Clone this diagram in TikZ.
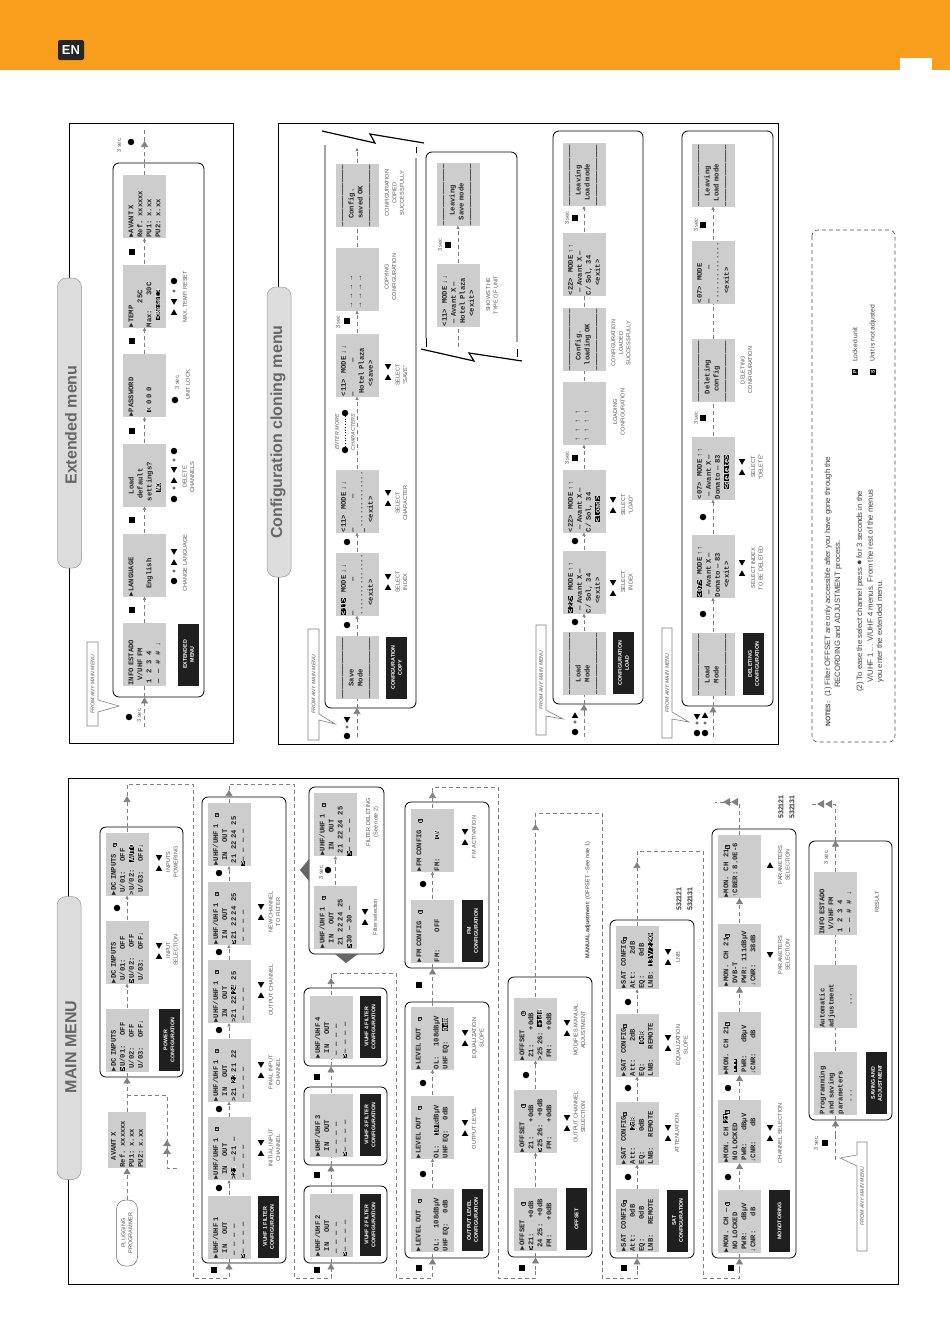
\documentclass[tikz,border=0pt]{standalone}
\usepackage{fontspec}
\setmainfont{Liberation Sans}
\setsansfont{Liberation Sans}
\setmonofont{Liberation Mono}
\usetikzlibrary{arrows.meta,shapes.geometric}
\definecolor{bandor}{HTML}{F99D1C}
\definecolor{lcdgray}{HTML}{CDCDCD}
\definecolor{tabgray}{HTML}{DCDCDC}
\definecolor{flowgray}{HTML}{808080}
\definecolor{lblgray}{HTML}{555555}
\newcommand{\hl}[1]{{\fboxsep=0pt\colorbox{black}{\textcolor{white}{#1}}}}
\newcommand{\lk}{\makebox[4.3pt]{\fboxsep=.3pt\fboxrule=.4pt\fbox{\fontsize{3.4}{3.4}\selectfont B}}}
\newcommand{\dl}{——————————————}
\tikzset{
  screen/.style={rotate=90,fill=lcdgray,text=black!85,inner sep=.5pt,text width=62pt,minimum height=43pt,
    align=left,font=\ttfamily\bfseries\fontsize{7.2}{9}\selectfont},
  panel/.style={draw=black,line width=.8pt,rounded corners=6pt,fill=white,inner sep=0pt},
  blk/.style={rotate=90,fill=black!88,text=white,minimum width=62pt,minimum height=21pt,inner sep=0pt,align=center,
    font=\sffamily\bfseries\fontsize{5.3}{7}\selectfont},
  lbl/.style={rotate=90,text=lblgray,inner sep=0pt,align=center,font=\sffamily\fontsize{5.6}{7.5}\selectfont},
  nt/.style={rotate=90,text=black!75,inner sep=0pt,anchor=west,font=\sffamily\fontsize{7.7}{8}\selectfont},
  callt/.style={lbl,font=\sffamily\itshape\fontsize{5.2}{7}\selectfont},
  callout/.style={draw=flowgray,fill=white,line width=.6pt},
  sq/.style={fill=black,minimum size=6pt,inner sep=0pt},
  ci/.style={circle,fill=black,minimum size=6.5pt,inner sep=0pt},
  keyu/.style={regular polygon,regular polygon sides=3,fill=black,minimum size=7.5pt,inner sep=0pt},
  keyd/.style={keyu,shape border rotate=180},
  pl/.style={inner sep=0pt,font=\sffamily\bfseries\fontsize{6}{6}\selectfont},
  flow/.style={draw=flowgray,dashed,line width=.6pt,dash pattern=on 4pt off 3pt,-{Triangle[length=3.2pt,width=3.2pt]}},
  flowb/.style={draw=flowgray,line width=.6pt,dash pattern=on 4pt off 3pt,-{Triangle[length=6pt,width=7pt]}},
  dashl/.style={draw=flowgray,line width=.6pt,dash pattern=on 4pt off 3pt},
  tab/.style={fill=tabgray,draw=black!40,line width=.5pt,rounded corners=9pt,minimum width=24pt,inner sep=0pt},
  ttl/.style={rotate=90,text=black!60,inner sep=0pt,font=\sffamily\bfseries\fontsize{16}{16}\selectfont},
  bigg/.style={fill=black!60,draw=none},
  zig/.style={draw=black,line width=1.2pt}
}
\begin{document}
\begin{tikzpicture}[x=1pt,y=-1pt]
  \useasboundingbox (0,0) rectangle (950,1344);
  % band
  \fill[bandor] (0,0) rectangle (950,70);
  \fill[white] (900,58) rectangle (932,70);
  \node[fill=black!85,text=white,rounded corners=2pt,inner sep=1.5pt,minimum width=26pt,minimum height=20pt,
    font=\sffamily\bfseries\fontsize{13}{13}\selectfont] (logo) at (71,50) {EN};
  % frames
  \draw[line width=.8pt] (69,123) rectangle (233,743);
  \draw[line width=.8pt] (278,123) rectangle (778,744);
  \draw[line width=.8pt] (68,778) rectangle (898,1284);
  \node[tab,minimum height=290pt] (TabE) at (69.5,423) {};
  \node[ttl] (TitleE) at (71,425) {Extended menu};
  \node[tab,minimum height=290pt] (TabC) at (279,432) {};
  \node[ttl] (TitleC) at (278,432) {Configuration cloning menu};
  \node[tab,minimum height=283pt] (TabM) at (69,1038) {};
  \node[ttl] (TitleM) at (71,1047) {MAIN MENU};
  \draw[dash pattern=on 4pt off 3pt,draw=black!70,line width=.6pt,rounded corners=6pt] (812,230) rectangle (895,742);

  % panels, main menu
  \node[panel,minimum width=83pt,minimum height=250pt] (PW) at (141.5,952) {};
  \node[panel,minimum width=84pt,minimum height=466pt] (VA) at (244,1030) {};
  \node[panel,minimum width=75pt,minimum height=167pt] (VF) at (346.5,870.5) {};
  \node[panel,minimum width=83pt,minimum height=78pt] (VD) at (345.5,1027) {};
  \node[panel,minimum width=83pt,minimum height=78pt] (VC) at (345.5,1126) {};
  \node[panel,minimum width=83pt,minimum height=77pt] (VB) at (345.5,1224.5) {};
  \node[panel,minimum width=84pt,minimum height=256pt] (LV) at (447,1130) {};
  \node[panel,minimum width=84pt,minimum height=166pt] (FM) at (447,885) {};
  \node[panel,minimum width=84pt,minimum height=280pt] (OF) at (550,1117) {};
  \node[panel,minimum width=84pt,minimum height=338pt] (ST) at (652,1089) {};
  \node[panel,minimum width=84pt,minimum height=429pt] (MO) at (754,1043.5) {};
  \node[panel,minimum width=83pt,minimum height=279pt] (SV) at (850.5,980.5) {};
  % panels, other menus
  \node[panel,minimum width=91pt,minimum height=534pt] (EX) at (158.5,430) {};
  \node[panel,minimum width=90pt,minimum height=573pt] (LD) at (598,417.5) {};
  \node[panel,minimum width=91pt,minimum height=575pt] (DL) at (727.5,418.5) {};
  \draw[line width=.8pt,rounded corners=6pt] (325,145) |- (416,708) -- (416,158);
  \draw[line width=.8pt] (416,147) -- (416,153);
  \draw[line width=.8pt,rounded corners=6pt] (426,338) |- (517,152) -- (517,342);
  \draw[line width=.8pt] (426,338) -- (426,347) (517,349) -- (517,357);
  \draw[zig] (322,131) -- (375,143) -- (370,134) -- (424,143);
  \draw[zig] (421,349) -- (474,361) -- (469,353) -- (522,361);

  % plugging
  \node[draw=black!60,line width=.5pt,rotate=90,rounded corners=9pt,minimum width=66pt,minimum height=21pt,inner sep=0pt,
    align=center,text=lblgray,font=\sffamily\fontsize{5.6}{7}\selectfont] (PP) at (127,1233) {PLUGGING\\PROGRAMMER};
  \node[screen,text width=55pt,minimum height=38pt] (AV) at (127,1140) {~~~AVANT X\\Ref. xxxxxx\\PU1: x.xx\\PU2: x.xx};

  % power
  \node[screen] (A1) at (127,1040) {►DC INPUTS\\\hl{>}U/01:~~~~OFF\\~U/02:~~~~OFF\\~U/03:~~~~OFF↓};
  \node[screen] (A2) at (127,952) {►DC INPUTS\\~U/01:~~~~OFF\\\hl{>}U/02:~~~~OFF\\~U/03:~~~~OFF↓};
  \node[screen] (A3) at (127,864) {►DC INPUTS~~~\lk\\~U/01:~~~~OFF\\>U/02:~~~\hl{AUTO}\\~U/03:~~~~OFF↓};
  \node[blk] (A0) at (169,1040) {POWER\\CONFIGURATION};

  % v/uhf 1
  \node[screen] (B1) at (229,1227) {►UHF/UHF 1\\~~IN~~~~OUT\\~—~~—~~—~~—\\\hl{>}—~~—~~—~~—};
  \node[screen] (B2) at (229,1148.5) {►UHF/UHF 1~~~\lk\\~~IN~~~~OUT\\>\hl{21}~~—~21~~—\\~—~~—~~—~~—};
  \node[screen] (B3) at (229,1070) {►UHF/UHF 1~~~\lk\\~~IN~~~~OUT\\>21~~\hl{22}~21~~22\\~—~~—~~—~~—};
  \node[screen] (B4) at (229,991.5) {►UHF/UHF 1~~~\lk\\~~IN~~~~OUT\\>21~~22~\hl{24}~~25\\~—~~—~~—~~—};
  \node[screen] (B5) at (229,913) {►UHF/UHF 1~~~\lk\\~~IN~~~~OUT\\\hl{>}21~~22~24~~25\\~—~~—~~—~~—};
  \node[screen] (B6) at (229,834.5) {►UHF/UHF 1~~~\lk\\~~IN~~~~OUT\\~21~~22~24~~25\\\hl{>}—~~—~~—~~—};
  \node[blk] (B0) at (268.5,1227) {V/UHF 1 FILTER\\CONFIGURATION};

  % filter deleting
  \node[screen] (C1) at (335.5,917) {►UHF/UHF 1~~~\lk\\~~IN~~~~OUT\\~21~~22~24~~25\\\hl{>}30~~—~30~~—};
  \node[screen] (C2) at (335.5,824.5) {►UHF/UHF 1~~~\lk\\~~IN~~~~OUT\\~21~~22~24~~25\\\hl{>}—~~—~~—~~—};
  \node[screen] (D4) at (331,1027) {►UHF/UHF 4\\~~IN~~~~OUT\\~—~~—~~—~~—\\\hl{>}—~~—~~—~~—};
  \node[screen] (D3) at (331,1125) {►UHF/UHF 3\\~~IN~~~~OUT\\~—~~—~~—~~—\\\hl{>}—~~—~~—~~—};
  \node[screen] (D2) at (331,1225) {►UHF/UHF 2\\~~IN~~~~OUT\\~—~~—~~—~~—\\\hl{>}—~~—~~—~~—};
  \node[blk] (D40) at (370,1027) {V/UHF 4 FILTER\\CONFIGURATION};
  \node[blk] (D30) at (370,1125) {V/UHF 3 FILTER\\CONFIGURATION};
  \node[blk] (D20) at (370,1225) {V/UHF 2 FILTER\\CONFIGURATION};

  % level out, fm
  \node[screen] (E1) at (432.5,1220) {►LEVEL OUT~~~\lk\\~\\OL:~~~~108dBµV\\UHF EQ:~~~~0dB};
  \node[screen] (E2) at (432.5,1127) {►LEVEL OUT~~~\lk\\~\\OL:~~~~\hl{108}dBµV\\UHF EQ:~~~~0dB};
  \node[screen] (E3) at (432.5,1038) {►LEVEL OUT~~~\lk\\~\\OL:~~~~108dBµV\\UHF EQ:~~~~\hl{0dB}};
  \node[blk] (E0) at (472.5,1220) {OUTPUT LEVEL\\CONFIGURATION};
  \node[screen] (G1) at (432.5,931) {►FM CONFIG~~~\lk\\~\\FM:~~~~~~~OFF\\~};
  \node[screen] (G2) at (432.5,840) {►FM CONFIG~~~\lk\\~\\FM:~~~~~~~~\hl{ON}\\~};
  \node[blk] (G0) at (472.5,931) {FM\\CONFIGURATION};

  % offset
  \node[screen] (H1) at (535.5,1219) {►OFFSET~~~~~~\lk\\\hl{>}21:~~~~~~+0dB\\~24 25:~~~+0dB\\~FM:~~~~~~+0dB};
  \node[screen] (H2) at (535.5,1121) {►OFFSET~~~~~~\lk\\~21:~~~~~~+0dB\\\hl{>}25 26:~~~+0dB\\~FM:~~~~~~+0dB};
  \node[screen] (H3) at (535.5,1029) {►OFFSET~~~~~~\lk\\~21:~~~~~~+0dB\\>25 26:~~\hl{+1dB}\\~FM:~~~~~~+0dB};
  \node[blk] (H0) at (576.5,1219) {OFFSET};

  % sat
  \node[screen] (J1) at (637,1220.5) {►SAT~~CONFIG\lk\\Att:~~~~~~~0dB\\EQ:~~~~~~~~0dB\\LNB:~~~~REMOTE};
  \node[screen] (J2) at (637,1133) {►SAT~~CONFIG\lk\\Att:~~~~~~~\hl{2dB}\\EQ:~~~~~~~~0dB\\LNB:~~~~REMOTE};
  \node[screen] (J3) at (637,1045) {►SAT~~CONFIG\lk\\Att:~~~~~~~2dB\\EQ:~~~~~~~~\hl{0dB}\\LNB:~~~~REMOTE};
  \node[screen] (J4) at (637,957.5) {►SAT~~CONFIG\lk\\Att:~~~~~~~2dB\\EQ:~~~~~~~~0dB\\LNB:~~\hl{13V/22KH}};
  \node[blk] (J0) at (677.5,1220.5) {SAT\\CONFIGURATION};

  % monitoring
  \node[screen] (K1) at (739.5,1221) {►MON.~~CH~~—~\lk\\~NO LOCKED\\~PWR:~~~~~dBµV\\↓CNR:~~~~~~dB};
  \node[screen] (K2) at (739.5,1131.5) {►MON.~~CH~~\hl{21}\lk\\~NO LOCKED\\~PWR:~~~~~dBµV\\↓CNR:~~~~~~dB};
  \node[screen] (K3) at (739.5,1043.5) {►MON.~~CH~~21\lk\\~\hl{•••}\\~PWR:~~~~~dBµV\\↓CNR:~~~~~~dB};
  \node[screen] (K4) at (739.5,955) {►MON.~~CH~~21\lk\\~DVB-T\\~PWR:~~111dBµV\\↓CNR:~~~~~38dB};
  \node[screen] (K5) at (739.5,866.5) {►MON.~~CH~~21\lk\\↑CBER:~8.0E-6\\~\\~};
  \node[blk] (K0) at (779.5,1221) {MONOTORING};

  % saving
  \node[screen] (L1) at (835.5,1083) {Programming\\and saving\\parameters\\~~~~~...};
  \node[screen] (L2) at (835.5,996.5) {Automatic\\adjustment\\~\\~~~~~~~~~...};
  \node[screen] (L3) at (835.5,903.5) {INFO ESTADO\\~~V/UHF FM\\~1~~2~~3~~4\\~—~~—~~\#~~\#~~↓};
  \node[blk] (L0) at (876.5,1083) {SAVING AND\\ADJUSTMENT};

  % extended menu
  \node[screen] (X1) at (144.5,654.5) {INFO ESTADO\\~~V/UHF FM\\~1~~2~~3~~4\\~—~~—~~\#~~\#~~↓};
  \node[screen] (X2) at (144.5,565) {►LANGUAGE\\~\\~~~English\\~};
  \node[screen] (X3) at (144.5,475) {~~~~~Load\\~~~default\\~~settings?\\~~~~~~\hl{NO}};
  \node[screen] (X4) at (144.5,385.5) {►PASSWORD\\~\\~~\hl{0}~0~0~0\\~};
  \node[screen] (X5) at (144.5,296) {►TEMP\\~~~~~~~~~~25C\\Max:~~~~~~30C\\~~~\hl{<Reset>}};
  \node[screen] (X6) at (144.5,206.5) {►AVANT X\\Ref. xxxxxx\\PU1: x.xx\\PU2: x.xx};
  \node[blk] (X0) at (188.5,654.5) {EXTENDED\\MENU};

  % copy
  \node[screen] (Q1) at (357,667.5) {\dl\\~~~~~Save\\~~~~~Mode\\\dl};
  \node[screen] (Q2) at (357,584) {\hl{<11>}~~MODE~↓↓\\—~~~~~~~~~~~~—\\··············\\~~~~<exit>};
  \node[screen] (Q3) at (357,501) {<11>~~MODE~↓↓\\—~~~~~~~~~~~~—\\\hl{\_}·············\\~~~~<exit>};
  \node[screen] (Q4) at (357,365) {<11>~~MODE~↓↓\\—~~~~~~~~~~~~—\\~Hotel Plaza\\~~~~<save>};
  \node[screen] (Q5) at (357,279) {~\\~→~~→~~→~~→\\~→~~→~~→~~→\\~};
  \node[screen] (Q6) at (357,195) {\dl\\~~~Config.\\~~~saved OK\\\dl};
  \node[blk] (Q0) at (396.5,667.5) {CONFIGURATION\\COPY};
  \node[screen] (R1) at (458,295) {<11>~~MODE~↓↓\\~— Avant X —\\~Hotel Plaza\\~~~~<exit>};
  \node[screen] (R2) at (458,194) {\dl\\~~~~Leaving\\~~Save mode\\\dl};

  % load
  \node[screen] (T1) at (584,663) {\dl\\~~~~~Load\\~~~~~Mode\\\dl};
  \node[screen] (T2) at (584,582) {\hl{<22>}~~MODE~↑↑\\~— Avant X —\\C/ Sol, 34\\~~~~<exit>};
  \node[screen] (T3) at (584,501) {<22>~~MODE~↑↑\\~— Avant X —\\C/ Sol, 34\\~~~~\hl{<load>}};
  \node[screen] (T4) at (584,413) {~\\~↑~~↑~~↑~~↑\\~↑~~↑~~↑~~↑\\~};
  \node[screen] (T5) at (584,339) {\dl\\~~~~Config.\\~~loading OK\\\dl};
  \node[screen] (T6) at (584,264) {<22>~~MODE~↑↑\\~— Avant X —\\C/ Sol, 34\\~~~~<exit>};
  \node[screen] (T7) at (584,174.5) {\dl\\~~~~Leaving\\~~Load mode\\\dl};
  \node[blk] (T0) at (623.5,663) {CONFIGURATION\\LOAD};

  % delete
  \node[screen] (U1) at (713,664) {\dl\\~~~~~Load\\~~~~~Mode\\\dl};
  \node[screen] (U2) at (713,566) {\hl{<07>}~~MODE~↑↑\\~— Avant X —\\Donato — 83\\~~~~<exit>};
  \node[screen] (U3) at (713,468) {<07>~~MODE~↑↑\\~— Avant X —\\Donato — 83\\~~~~\hl{<delete>}};
  \node[screen] (U4) at (713,370.5) {\dl\\~~~Deleting\\~~~~config\\\dl};
  \node[screen] (U5) at (713,272) {<07>~~MODE\\—~~~~~~~~~~~~—\\··············\\~~~~<exit>};
  \node[screen] (U6) at (713,175) {\dl\\~~~~Leaving\\~~Load mode\\\dl};
  \node[blk] (U0) at (753.5,664) {DELETING\\CONFIGURATION};

  % square keys
  \foreach \n/\a/\b in {1/214/1270,2/317/1270,3/317/1175,4/317/1077,5/419/1268,6/419/985,7/522/1268,8/624/1268,9/731/1268,
    10/825/1143,11/132/252,12/132/341,13/132/431,14/132/520,15/132/610,16/347/321,17/448/245,18/575/458,19/575/218,20/703/225,21/703/418}
    \node[sq] (SQ\n) at (\a,\b) {};
  % round keys
  \foreach \n/\a/\b in {1/117/908,2/219/873,3/219/952,4/219/1030,5/219/1109,6/219/1188,7/423/1083,8/423/1174,9/423/884,10/526/1075,
    11/628/1088,12/628/1177,13/628/1002,14/728/1088,15/728/1177,16/328/870,17/129/717,18/131/142,19/175/400,20/174/281,21/174/451,22/174/499,23/174/581,
    24/345/413,25/345/450,26/347/542,27/347/625,28/347/736,29/575/732,30/575/622,31/575/541,32/697/733,33/705/733,34/703/614,35/703/517}
    \node[ci] (CI\n) at (\a,\b) {};
  % key pairs
  \foreach \n/\a/\b in {1/159/951,2/159/863,3/261/1148,4/261/1070,5/261/990,6/261/912,7/365/917,8/465/1128,9/465/1038,10/465/837,
    11/567/1123,12/567/1028,13/668/1133,14/668/1043,15/668/957,16/770/1133,17/174/307,18/174/475,19/174/557,20/388/582,21/388/498,22/388/372,
    23/613/588,24/613/505,25/742/568,26/742/467}{
    \node[keyd] (KD\n) at (\a,\b-6) {};
    \node[keyu] (KU\n) at (\a,\b+6) {};
  }
  \node[keyu] (KU30) at (770,866) {};
  \node[keyd] (KD30) at (770,954) {};
  \node[keyd] (KD31) at (347,719) {};
  \node[keyu] (KU32) at (575,716) {};
  \node[keyd] (KD33) at (697,716) {};
  \node[keyu] (KU33) at (705,716) {};
  % plus signs
  \foreach \n/\a/\b in {1/174/292,2/174/461,3/174/489,4/174/572,5/347/728,6/575/723,7/697/724,8/705/724}
    \node[pl] (PL\n) at (\a,\b) {+};

  % labels
  \node[lbl] (N1) at (172,950) {INPUT\\SELECTION};
  \node[lbl] (N2) at (172,862) {INPUTS\\POWERING};
  \node[lbl] (N3) at (274.5,1148) {INITIAL INPUT\\CHANNEL};
  \node[lbl] (N4) at (274.5,1072) {FINAL INPUT\\CHANNEL};
  \node[lbl] (N5) at (271,990) {OUTPUT CHANNEL};
  \node[lbl] (N6) at (274.5,912) {NEW CHANNEL\\TO FILTER};
  \node[lbl] (N7) at (375,917) {Filter selection};
  \node[lbl] (N8) at (372.5,822) {FILTER DELETING\\(See note 2)};
  \node[lbl] (N9) at (321,872) {3 sec.};
  \node[lbl] (N10) at (474,1128) {OUTPUT LEVEL};
  \node[lbl] (N11) at (478,1038) {EQUALIZATION\\SLOPE};
  \node[lbl] (N12) at (474,837) {FM ACTIVATION};
  \node[lbl] (N13) at (579.5,1117) {OUTPUT CHANNEL\\SELECTION};
  \node[lbl] (N14) at (579.5,1030) {MODIFIES MANUAL\\ADJUSTMENT};
  \node[lbl,text=black!75] (N15) at (588,900) {\textbf{MANUAL adjustment}: (OFFSET - See note 1)};
  \node[lbl] (N16) at (677,1133) {ATTENUATION};
  \node[lbl] (N17) at (682,1045) {EQUALIZATION\\SLOPE};
  \node[lbl] (N18) at (678,957) {LNB};
  \node[lbl] (N19) at (780,1133) {CHANNEL SELECTION};
  \node[lbl] (N20) at (784,955) {PARAMETERS\\SELECTION};
  \node[lbl] (N21) at (784,865) {PARAMETERS\\SELECTION};
  \node[lbl] (N22) at (877,902) {RESULT};
  \node[lbl] (N23) at (816,1143) {3 sec.};
  \node[lbl] (N24) at (826,857) {3 sec.};
  \node[lbl,text=black!80,font=\sffamily\bfseries\fontsize{7}{11}\selectfont] (N25) at (684.5,899) {532121\\532131};
  \node[lbl,text=black!80,font=\sffamily\bfseries\fontsize{7}{11}\selectfont] (N26) at (786.5,807) {532121\\532131};
  \node[lbl] (N27) at (119,145) {3 sec.};
  \node[lbl] (N28) at (139,715) {3 sec.};
  \node[lbl] (N29) at (177,382) {3 sec.};
  \node[lbl] (N30) at (188,385) {UNIT LOCK};
  \node[lbl] (N31) at (185,297) {MAX. TEMP. RESET};
  \node[lbl] (N32) at (188.5,477) {DELETE\\CHANNELS};
  \node[lbl] (N33) at (185,563) {CHANGE LANGUAGE};
  \node[lbl] (N34) at (401.5,582) {SELECT\\INDEX};
  \node[lbl] (N35) at (401.5,503) {SELECT\\CHARACTER};
  \node[lbl] (N36) at (401.5,375) {SELECT\\``SAVE''};
  \node[lbl] (N37) at (390.5,277) {COPYING\\CONFIGURATION};
  \node[lbl] (N38) at (394.5,193) {CONFIGURATION\\COPIED\\SUCCESSFULLY};
  \node[lbl,font=\sffamily\itshape\fontsize{5.3}{7}\selectfont] (N39) at (337,432) {ENTER MORE};
  \node[lbl,font=\sffamily\itshape\fontsize{5.3}{7}\selectfont] (N40) at (353,432) {CHARACTERS};
  \node[lbl] (N41) at (338,322) {3 sec};
  \node[lbl] (N42) at (440,245) {3 sec};
  \node[lbl] (N43) at (492,295) {SHOWS THE\\TYPE OF UNIT};
  \node[lbl] (N44) at (627,582) {SELECT\\INDEX};
  \node[lbl] (N45) at (627,505) {SELECT\\``LOAD''};
  \node[lbl] (N46) at (619,412) {LOADING\\CONFIGURATION};
  \node[lbl] (N47) at (621,343) {CONFIGURATION\\LOADED\\SUCCESSFULLY};
  \node[lbl] (N48) at (567,458) {3 sec};
  \node[lbl] (N49) at (567,218) {3 sec};
  \node[lbl] (N50) at (757,568) {SELECT INDEX\\TO BE DELETED};
  \node[lbl] (N51) at (757,467) {SELECT\\``DELETE''};
  \node[lbl] (N52) at (746.5,370) {DELETING\\CONFIGURATION};
  \node[lbl] (N53) at (696,418) {3 sec};
  \node[lbl] (N54) at (696,225) {3 sec};

  % notes
  \node[nt,font=\sffamily\bfseries\fontsize{6.7}{8}\selectfont] (Z0) at (828,727) {NOTES:};
  \node[nt] (Z1) at (828,697) {(1) Filter OFFSET are only accessible after you have gone through the};
  \node[nt] (Z2) at (838,688) {RECORDING and ADJUSTMENT process.};
  \node[nt] (Z3) at (860,692) {(2) To ease the select channel press {\fontsize{9}{9}\selectfont ●} for 3 seconds in the};
  \node[nt] (Z4) at (870,683) {V/UHF 1 ... V/UHF 4 menus. From the rest of the menus};
  \node[nt] (Z5) at (880,683) {you enter the extended menu.};
  \node[rotate=90,fill=black,text=white,inner sep=.5pt,minimum size=6pt,font=\sffamily\bfseries\fontsize{5}{5}\selectfont] (Z6) at (855,372) {P};
  \node[rotate=90,fill=black,text=white,inner sep=.5pt,minimum size=6pt,font=\sffamily\bfseries\fontsize{5}{5}\selectfont] (Z7) at (873,372) {S};
  \node[nt,font=\sffamily\fontsize{6.7}{8}\selectfont] (Z8) at (855,362) {Locked unit};
  \node[nt,font=\sffamily\fontsize{6.7}{8}\selectfont] (Z9) at (873,362) {Unit is not adjusted};

  % callouts
  \draw[callout] (87,642) -- (98,642) -- (98,700) -- (119,706) -- (98,712) -- (98,726) -- (87,726) -- cycle;
  \node[callt] (F1) at (92.5,684) {FROM ANY MAIN MENU};
  \draw[callout] (308,629) -- (319,629) -- (319,714) -- (335,724) -- (319,720) -- (319,740) -- (308,740) -- cycle;
  \node[callt] (F2) at (313.5,684) {FROM ANY MAIN MENU};
  \draw[callout] (536,625) -- (546,625) -- (546,710) -- (563,719) -- (546,716) -- (546,735) -- (536,735) -- cycle;
  \node[callt] (F3) at (541,680) {FROM ANY MAIN MENU};
  \draw[callout] (662,628) -- (672,628) -- (672,712) -- (689,722) -- (672,719) -- (672,738) -- (662,738) -- cycle;
  \node[callt] (F4) at (667,683) {FROM ANY MAIN MENU};
  \draw[callout] (857,1142) -- (867,1142) -- (867,1251) -- (857,1251) -- (857,1166) -- (840,1158) -- (857,1155) -- cycle;
  \node[callt] (F5) at (862,1196) {FROM ANY MAIN MENU};

  % big filter arrows
  \fill[bigg] (300,870) -- (309,859) -- (309,881) -- cycle;
  \fill[bigg] (346,963) -- (335,954) -- (358,954) -- cycle;

  % connectors, main menu
  \path (PP.east) edge [flowb] (AV.west);
  \path (AV.east) edge [flowb] (PW.south -| AV);
  \path (PW.south -| A1) edge [dashl] (A1.west);
  \path (A1.east) edge [flow] (A2.west);
  \path (A2.east) edge [flow] (A3.west);
  \path (A3.east) edge [dashl] (PW.north -| A3);
  \path (PW.north -| A3) edge [flowb] (127,796);
  \draw[dashl] (127,796) -- (127,784) -- (193,784) -- (193,1278) -- (229,1278) -- (229,1270);
  \draw[flowb] (229,1270) -- (VA.south -| B1);
  \draw[dashl] (127,1095) -- (167,1095) -- (167,1168) -- (178,1168);
  \foreach \n/\b in {1/1143,2/1151}
    \fill[flowgray] (167,\b-3) -- (163,\b+3) -- (171,\b+3) -- cycle;
  \path (VA.south -| B1) edge [dashl] (B1.west);
  \path (B1.east) edge [flow] (B2.west);
  \path (B2.east) edge [flow] (B3.west);
  \path (B3.east) edge [flow] (B4.west);
  \path (B4.east) edge [flow] (B5.west);
  \path (B5.east) edge [flow] (B6.west);
  \path (B6.east) edge [dashl] (VA.north -| B6);
  \path (VA.north -| B6) edge [flowb] (229,790);
  \draw[dashl] (229,790) -- (229,784) -- (294,784) -- (294,1278) -- (331,1278) -- (331,1272);
  \draw[flowb] (331,1272) -- (VB.south -| D2);
  \path (VB.south -| D2) edge [dashl] (D2.west);
  \path (D2.east) edge [dashl] (VB.north -| D2);
  \path (VB.north -| D2) edge [flowb] (VC.south -| D3);
  \path (VC.south -| D3) edge [dashl] (D3.west);
  \path (D3.east) edge [dashl] (VC.north -| D3);
  \path (VC.north -| D3) edge [flowb] (VD.south -| D4);
  \path (VD.south -| D4) edge [dashl] (D4.west);
  \path (D4.east) edge [dashl] (VD.north -| D4);
  \path (VD.north -| D4) edge [flowb] (331,978);
  \draw[dashl] (331,978) -- (331,973) -- (396,973) -- (396,1278) -- (432.5,1278) -- (432.5,1270);
  \draw[flowb] (432.5,1270) -- (LV.south -| E1);
  \path (C1.east) edge [flow] (C2.west);
  \path (LV.south -| E1) edge [dashl] (E1.west);
  \path (E1.east) edge [flow] (E2.west);
  \path (E2.east) edge [flow] (E3.west);
  \path (E3.east) edge [dashl] (LV.north -| E3);
  \path (LV.north -| E3) edge [flowb] (FM.south -| G1);
  \path (FM.south -| G1) edge [dashl] (G1.west);
  \path (G1.east) edge [flow] (G2.west);
  \path (G2.east) edge [dashl] (FM.north -| G2);
  \path (FM.north -| G2) edge [flowb] (432.5,792);
  \draw[dashl] (432.5,792) -- (432.5,787) -- (498,787) -- (498,1278) -- (535.5,1278) -- (535.5,1270);
  \draw[flowb] (535.5,1270) -- (OF.south -| H1);
  \path (OF.south -| H1) edge [dashl] (H1.west);
  \path (H1.east) edge [flow] (H2.west);
  \path (H2.east) edge [flow] (H3.west);
  \path (H3.east) edge [dashl] (OF.north -| H3);
  \path (OF.north -| H3) edge [flowb] (535.5,824);
  \draw[dashl] (535.5,824) -- (535.5,813) -- (602,813) -- (602,1278) -- (637,1278) -- (637,1270);
  \draw[flowb] (637,1270) -- (ST.south -| J1);
  \path (ST.south -| J1) edge [dashl] (J1.west);
  \path (J1.east) edge [flow] (J2.west);
  \path (J2.east) edge [flow] (J3.west);
  \path (J3.east) edge [flow] (J4.west);
  \path (J4.east) edge [dashl] (ST.north -| J4);
  \path (ST.north -| J4) edge [flowb] (637,862);
  \draw[dashl] (637,862) -- (637,851) -- (703,851) -- (703,1278) -- (739.5,1278) -- (739.5,1270);
  \draw[flowb] (739.5,1270) -- (MO.south -| K1);
  \path (MO.south -| K1) edge [dashl] (K1.west);
  \path (K1.east) edge [flowb] (K2.west);
  \path (K2.east) edge [flowb] (K3.west);
  \path (K3.east) edge [flowb] (K4.west);
  \path (K4.east) edge [flowb] (K5.west);
  \path (K5.east) edge [dashl] (MO.north -| K5);
  \draw[dashl] (MO.north -| K5) -- (739.5,802) -- (715,802);
  \foreach \n/\a in {1/727,2/735}
    \fill[flowgray] (\a-4,802) -- (\a+3,798) -- (\a+3,806) -- cycle;
  \draw[dashl] (835.5,1160) -- (835.5,1135);
  \draw[flowb] (835.5,1135) -- (SV.south -| L1);
  \path (SV.south -| L1) edge [dashl] (L1.west);
  \path (L1.east) edge [dashl] (L2.west);
  \path (L2.east) edge [dashl] (L3.west);
  \path (L3.east) edge [flowb] (SV.north -| L3);
  \draw[dashl] (SV.north -| L3) -- (835.5,804) -- (810,804);
  \foreach \n/\a in {1/821,2/829}
    \fill[flowgray] (\a-4,804) -- (\a+3,800) -- (\a+3,808) -- cycle;

  % connectors, extended menu
  \draw[dashl] (144.5,727) -- (144.5,705);
  \draw[flowb] (144.5,705) -- (EX.south -| X1);
  \path (EX.south -| X1) edge [dashl] (X1.west);
  \path (X1.east) edge [flow] (X2.west);
  \path (X2.east) edge [flow] (X3.west);
  \path (X3.east) edge [flow] (X4.west);
  \path (X4.east) edge [flow] (X5.west);
  \path (X5.east) edge [flow] (X6.west);
  \path (X6.east) edge [dashl] (EX.north -| X6);
  \path (EX.north -| X6) edge [flowb] (144.5,141);
  \draw[dashl] (144.5,141) -- (144.5,127);

  % connectors, cloning menu
  \draw[dashl] (357,737) -- (357,716);
  \draw[flowb] (357,716) -- (357,708);
  \path (357,708) edge [dashl] (Q1.west);
  \path (Q1.east) edge [flow] (Q2.west);
  \path (Q2.east) edge [flow] (Q3.west);
  \path (Q3.east) edge [flow] (Q4.west);
  \path (Q4.east) edge [flow] (Q5.west);
  \path (Q5.east) edge [dashl] (Q6.west);
  \draw[flow] (Q6.east) -- (357,148);
  \draw[dotted,line width=.7pt] (345,416) -- (345,447);
  \draw[dashl] (458,347) -- (R1.west);
  \path (R1.east) edge [flow] (R2.west);
  \draw[dashl] (584,737) -- (584,712);
  \draw[flowb] (584,712) -- (LD.south -| T1);
  \path (LD.south -| T1) edge [dashl] (T1.west);
  \path (T1.east) edge [flow] (T2.west);
  \path (T2.east) edge [flow] (T3.west);
  \path (T3.east) edge [flow] (T4.west);
  \path (T4.east) edge [dashl] (T5.west);
  \path (T5.east) edge [dashl] (T6.west);
  \path (T6.east) edge [flow] (T7.west);
  \draw[dashl] (713,737) -- (713,714);
  \draw[flowb] (713,714) -- (DL.south -| U1);
  \path (DL.south -| U1) edge [dashl] (U1.west);
  \path (U1.east) edge [flow] (U2.west);
  \path (U2.east) edge [flow] (U3.west);
  \path (U3.east) edge [dashl] (U4.west);
  \path (U4.east) edge [dashl] (U5.west);
  \path (U5.east) edge [flow] (U6.west);
\end{tikzpicture}
\end{document}
